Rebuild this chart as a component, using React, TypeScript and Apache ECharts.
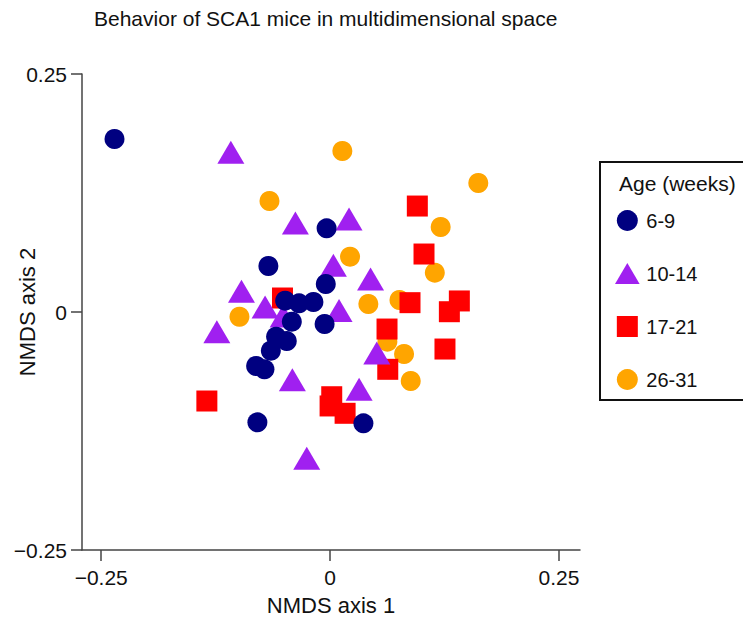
import React, { useEffect, useRef } from "react";
import * as echarts from "echarts";

const groups = ["6-9", "10-14", "17-21", "26-31"];

const navyPts: [number, number][] = [
  [-0.2355, 0.1817], [-0.0038, 0.0879], [-0.0674, 0.0483], [-0.0047, 0.0294],
  [-0.0491, 0.0119], [-0.0339, 0.0091], [-0.0182, 0.0105], [-0.0418, -0.0102],
  [-0.006, -0.0126], [-0.059, -0.0259], [-0.0473, -0.0305], [-0.0647, -0.0406],
  [-0.0808, -0.0567], [-0.0717, -0.0602], [-0.0794, -0.1159], [0.0364, -0.1169],
];
const purplePts: [number, number][] = [
  [-0.1084, 0.1678], [-0.0379, 0.0935], [0.0207, 0.0977], [-0.0968, 0.0217],
  [-0.071, 0.0053], [-0.0513, -0.0042], [-0.1237, -0.0207], [0.0036, 0.049],
  [0.0442, 0.0347], [0.0098, 0.0016], [0.051, -0.0431], [0.0317, -0.0812],
  [-0.0412, -0.0711], [-0.0255, -0.1537],
];
const redPts: [number, number][] = [
  [-0.052, 0.0147], [0.0953, 0.1113], [0.1026, 0.0609], [0.0873, 0.0098],
  [0.1412, 0.0116], [0.1303, 0.0003], [0.0622, -0.0179], [0.1255, -0.0389],
  [0.063, -0.0602], [-0.1346, -0.0935], [0.0018, -0.089], [0.0, -0.0987],
  [0.0164, -0.1064],
];
const orangePts: [number, number][] = [
  [-0.0662, 0.1166], [-0.099, -0.005], [0.0134, 0.1691], [0.1619, 0.1355],
  [0.1208, 0.0893], [0.0218, 0.0581], [0.1144, 0.0413], [0.0418, 0.0084],
  [0.0758, 0.0126], [0.0626, -0.0312], [0.0808, -0.0441], [0.0881, -0.0725],
];

const tickValues = [-0.25, 0, 0.25];

const FONT = "'Liberation Sans', Arial, Helvetica, sans-serif";
const fmt = (v: number) =>
  v === 0 ? "0" : (v < 0 ? "\u2212" : "") + Math.abs(v).toFixed(2);

const TRI = "path://M13.5,0 L27,23 L0,23 Z";
const SQ = "path://M0,0 L21,0 L21,21 L0,21 Z";

export default function App() {
  const ref = useRef<HTMLDivElement>(null);
  useEffect(() => {
    document.body.style.margin = "0";
    const chart = echarts.init(ref.current!, null, { renderer: "svg" });
    const axisLine = { show: true, onZero: false, lineStyle: { color: "#444", width: 1.5 } };
    chart.setOption({
      animation: false,
      backgroundColor: "#fff",
      title: {
        text: "Behavior of SCA1 mice in multidimensional space",
        left: 94,
        top: 8,
        padding: 0,
        textStyle: { fontFamily: FONT, fontSize: 21, fontWeight: "normal", color: "#111" },
      },
      grid: { left: 82, top: 74, width: 498, height: 476, outerBoundsMode: "none", containLabel: false },
      xAxis: {
        type: "value",
        min: -0.271,
        max: 0.273,
        name: "NMDS axis 1",
        nameLocation: "middle",
        nameGap: 44,
        nameMoveOverlap: false,
        nameTextStyle: { fontFamily: FONT, fontSize: 22, color: "#111" },
        axisLine,
        splitLine: { show: false },
        axisTick: { show: true, length: 11, customValues: tickValues, lineStyle: { color: "#444", width: 1.5 } },
        axisLabel: {
          customValues: tickValues,
          formatter: fmt,
          margin: 17,
          fontFamily: FONT,
          fontSize: 21,
          color: "#111",
        },
      },
      yAxis: {
        type: "value",
        min: -0.25,
        max: 0.25,
        interval: 0.25,
        name: "NMDS axis 2",
        nameLocation: "middle",
        nameGap: 44,
        nameRotate: 90,
        nameMoveOverlap: false,
        nameTextStyle: { fontFamily: FONT, fontSize: 22, color: "#111" },
        axisLine,
        splitLine: { show: false },
        axisTick: { show: true, length: 11, lineStyle: { color: "#444", width: 1.5 } },
        axisLabel: {
          formatter: fmt,
          margin: 15,
          fontFamily: FONT,
          fontSize: 21,
          color: "#111",
        },
      },
      legend: {
        orient: "vertical",
        left: 615,
        top: 210,
        padding: 0,
        itemWidth: 28,
        itemHeight: 21,
        itemGap: 32,
        selectedMode: false,
        textStyle: { fontFamily: FONT, fontSize: 20, color: "#111", lineHeight: 21 },
        data: [
          { name: groups[0], icon: "circle" },
          { name: groups[1], icon: TRI },
          { name: groups[2], icon: SQ },
          { name: groups[3], icon: "circle" },
        ],
      },
      graphic: [
        {
          type: "rect",
          shape: { x: 600, y: 162, width: 170, height: 238 },
          style: { fill: "none", stroke: "#111", lineWidth: 2 },
        },
        {
          type: "text",
          x: 619,
          y: 173,
          style: { text: "Age (weeks)", fontFamily: FONT, fontSize: 21, fill: "#111" },
        },
      ],
      series: [
        {
          name: groups[0], type: "scatter", data: navyPts, symbol: "circle", symbolSize: 20, z: 5,
          itemStyle: { color: "#000080", opacity: 1 },
        },
        {
          name: groups[1], type: "scatter", data: purplePts, symbol: "triangle", symbolSize: [27, 23], z: 4,
          itemStyle: { color: "#A020F0", opacity: 1 },
        },
        {
          name: groups[2], type: "scatter", data: redPts, symbol: "rect", symbolSize: 21, z: 3,
          itemStyle: { color: "#FF0000", opacity: 1 },
        },
        {
          name: groups[3], type: "scatter", data: orangePts, symbol: "circle", symbolSize: 20, z: 2,
          itemStyle: { color: "#FFA500", opacity: 1 },
        },
      ],
    });
    return () => chart.dispose();
  }, []);
  return <div ref={ref} style={{ width: 743, height: 617 }} />;
}
